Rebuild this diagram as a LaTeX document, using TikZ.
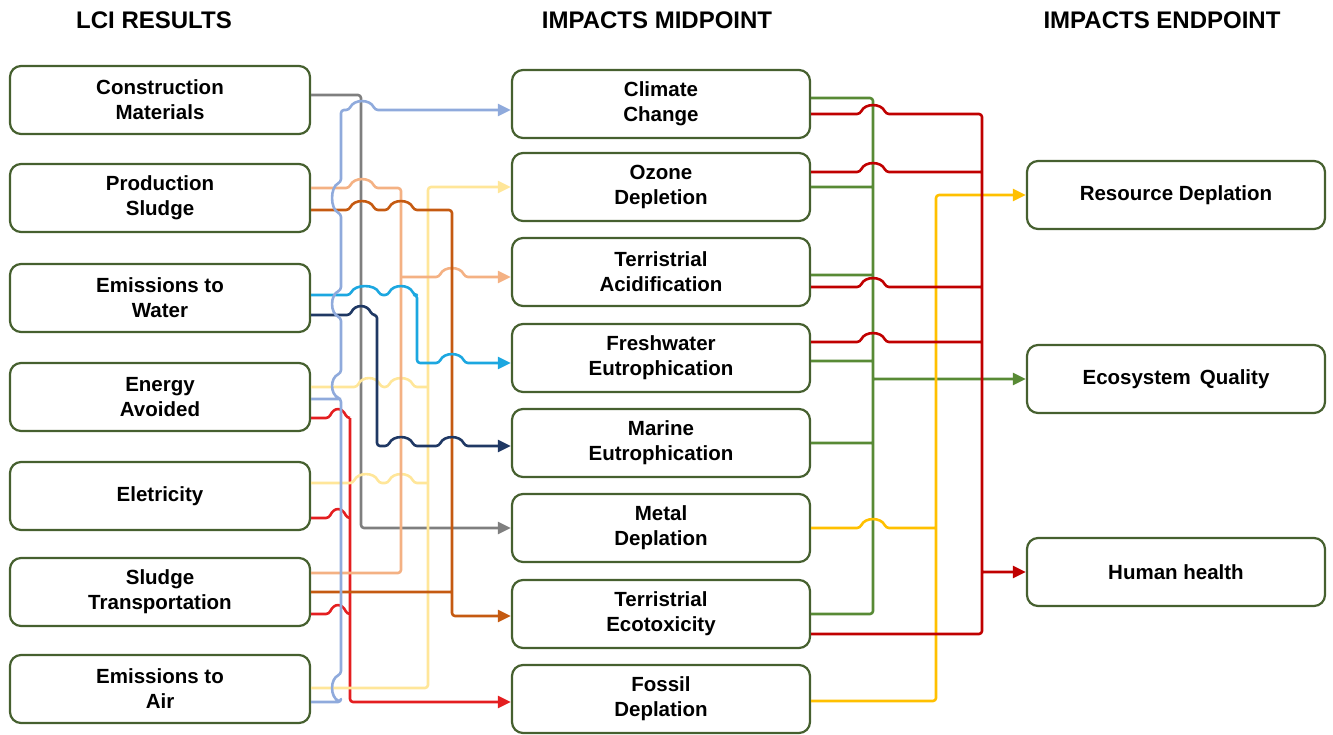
\documentclass[tikz,border=0pt]{standalone}
\usepackage{fontspec}
\setmainfont{Liberation Sans}
\usepackage{tikz}
\usetikzlibrary{arrows.meta,positioning}

\definecolor{boxgreen}{HTML}{46602F}
\definecolor{cgray}{HTML}{7F7F7F}
\definecolor{cblue}{HTML}{8FAADC}
\definecolor{cpeach}{HTML}{F4B183}
\definecolor{cbrown}{HTML}{C55A11}
\definecolor{cyellow}{HTML}{FFE699}
\definecolor{ccyan}{HTML}{1CA7E0}
\definecolor{cnavy}{HTML}{1F3864}
\definecolor{cred}{HTML}{E41E20}
\definecolor{cdarkred}{HTML}{C00000}
\definecolor{cgreen}{HTML}{588A35}
\definecolor{cgold}{HTML}{FFC000}

\tikzset{link/.style={line width=2.6pt,line join=round,rounded corners=3pt}}

% hop over a vertical line: x, y, half width
\newcommand{\jump}[3]{-- (#1-#3,#2) .. controls (#1-#3+5,#2-11) and (#1+#3-5,#2-11) .. (#1+#3,#2)}
% hop to the left on a line going up: x, y, half height
\newcommand{\vjump}[3]{-- (#1,#2+#3) .. controls (#1-11,#2+#3-5) and (#1-11,#2-#3+5) .. (#1,#2-#3)}

\begin{document}
\begin{tikzpicture}[x=1pt,y=-1pt,
  box/.style={draw=boxgreen,line width=2.2pt,rounded corners=11pt,minimum width=298pt,minimum height=68pt,align=center,font=\fontsize{20.5}{25}\selectfont\bfseries},
  head/.style={font=\fontsize{24}{28}\selectfont\bfseries},
  tip/.style={-{Triangle[length=13pt,width=12pt]}}]
  \useasboundingbox (0,0) rectangle (1333,735);

  % headings
  \node[head] (hlci) at (154,20) {LCI RESULTS};
  \node[head] (hmid) at (657,20) {IMPACTS MIDPOINT};
  \node[head] (hend) at (1162,20) {IMPACTS ENDPOINT};

  % LCI results
  \node[box,minimum width=300pt] (cm) at (160,100) {Construction\\Materials};
  \node[box,minimum width=300pt] (ps) at (160,198) {Production\\Sludge};
  \node[box,minimum width=300pt] (ew) at (160,298) {Emissions to\\Water};
  \node[box,minimum width=300pt] (eav) at (160,397) {Energy\\Avoided};
  \node[box,minimum width=300pt] (el) at (160,496) {Eletricity};
  \node[box,minimum width=300pt] (st) at (160,592) {Sludge\\Transportation};
  \node[box,minimum width=300pt] (eair) at (160,689) {Emissions to\\Air};

  % midpoint
  \node[box] (cc) at (661,104) {Climate\\Change};
  \node[box] (od) at (661,187) {Ozone\\Depletion};
  \node[box] (ta) at (661,272) {Terristrial\\Acidification};
  \node[box] (fe) at (661,358) {Freshwater\\Eutrophication};
  \node[box] (mae) at (661,443) {Marine\\Eutrophication};
  \node[box] (md) at (661,528) {Metal\\Deplation};
  \node[box] (te) at (661,614) {Terristrial\\Ecotoxicity};
  \node[box] (fd) at (661,699) {Fossil\\Deplation};

  % endpoint
  \node[box] (rd) at (1176,195) {Resource Deplation};
  \node[box] (eq) at (1176,379) {Ecosystem\, Quality};
  \node[box] (hh) at (1176,572) {Human health};

  % LCI -> midpoint
  \draw[link,cgray,tip] (cm.east |- 0,95) -- (361,95) |- (md.west);

  \draw[link,cred] (eav.east |- 0,418) \jump{338}{418}{9} -- (350,418);
  \draw[link,cred] (el.east |- 0,518) \jump{338}{518}{9} -- (350,518);
  \draw[link,cred] (st.east |- 0,614) \jump{338}{614}{9} -- (350,614);
  \draw[link,cred,tip] (350,418) -- (350,702) -- (fd.west |- 0,702);

  \draw[link,cyellow] (eav.east |- 0,387) \jump{369}{387}{12} \jump{401}{387}{13} -- (428,387);
  \draw[link,cyellow] (el.east |- 0,483) \jump{366}{483}{13} \jump{401}{483}{13} -- (428,483);
  \draw[link,cyellow,tip] (eair.east |- 0,688) -- (428,688) |- (od.west);

  \draw[link,cpeach] (ps.east |- 0,188) \jump{362}{188}{13} -- (401,188) -- (401,573) -- (st.east |- 0,573);
  \draw[link,cpeach,tip] (401,277) \jump{452}{277}{13} -- (ta.west |- 0,277);

  \draw[link,cbrown,tip] (st.east |- 0,592) -- (452,592)
    (ps.east |- 0,210) \jump{362}{210}{13} \jump{401}{210}{13} -- (452,210) -- (452,616) -- (te.west |- 0,616);

  \draw[link,ccyan,tip] (ew.east |- 0,295) \jump{365}{295}{15} \jump{401}{295}{13} -- (417,295) -- (417,363) \jump{452}{363}{13} -- (fe.west |- 0,363);

  \draw[link,cnavy,tip] (ew.east |- 0,315) \jump{361}{315}{11} -- (377,315) -- (377,446) \jump{401}{446}{13} \jump{452}{446}{13} -- (mae.west |- 0,446);

  \draw[link,cblue,tip] (eav.east |- 0,399) -- (341,399)
    (eair.east |- 0,702) -- (341,702) \vjump{341}{688}{14} \vjump{341}{386}{13} \vjump{341}{304}{14} \vjump{341}{198}{16} -- (341,110) \jump{362}{110}{13} -- (cc.west |- 0,110);

  % midpoint -> endpoint
  \draw[link,cgreen,tip] (cc.east |- 0,98) -- (873,98) -- (873,614) -- (te.east |- 0,614)
    (od.east |- 0,187) -- (873,187)
    (ta.east |- 0,275) -- (873,275)
    (fe.east |- 0,361) -- (873,361)
    (mae.east |- 0,443) -- (873,443)
    (873,379) -- (eq.west);

  \draw[link,cgold,tip] (md.east |- 0,528) \jump{873}{528}{13} -- (936,528)
    (fd.east |- 0,701) -- (936,701) |- (rd.west);

  \draw[link,cdarkred,tip] (cc.east |- 0,114) \jump{873}{114}{13} -- (982,114) -- (982,634) -- (te.east |- 0,634)
    (od.east |- 0,172) \jump{873}{172}{13} -- (982,172)
    (ta.east |- 0,287) \jump{873}{287}{13} -- (982,287)
    (fe.east |- 0,342) \jump{873}{342}{13} -- (982,342)
    (982,572) -- (hh.west);
\end{tikzpicture}
\end{document}
